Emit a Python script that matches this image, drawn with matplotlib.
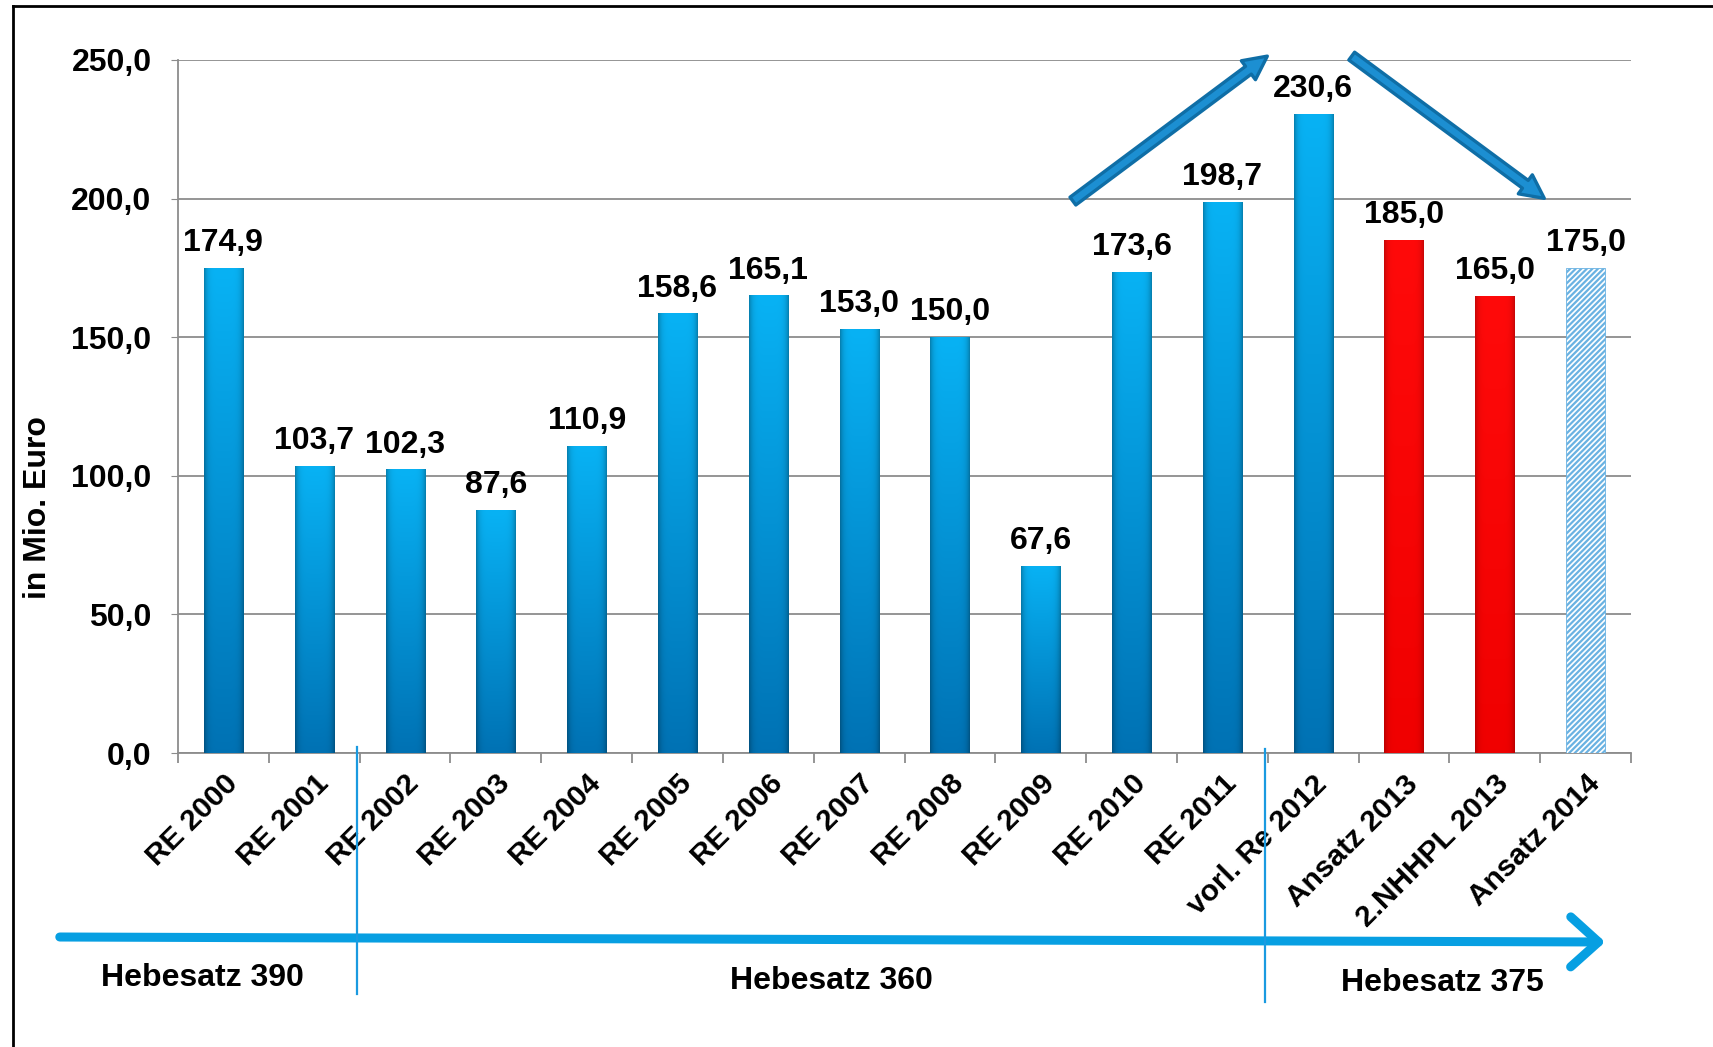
import numpy as np
import matplotlib
matplotlib.use("Agg")
import matplotlib.pyplot as plt
from matplotlib.patches import FancyArrowPatch
from matplotlib.lines import Line2D

# ---------------- data ----------------
categories = ["RE 2000", "RE 2001", "RE 2002", "RE 2003", "RE 2004", "RE 2005",
              "RE 2006", "RE 2007", "RE 2008", "RE 2009", "RE 2010", "RE 2011",
              "vorl. Re 2012", "Ansatz 2013", "2.NHHPL 2013", "Ansatz 2014"]
values = [174.9, 103.7, 102.3, 87.6, 110.9, 158.6, 165.1, 153.0, 150.0, 67.6,
          173.6, 198.7, 230.6, 185.0, 165.0, 175.0]
bar_kind = ["blue"] * 13 + ["red", "red", "hatch"]
y_ticks = [0, 50, 100, 150, 200, 250]
y_label = "in Mio. Euro"
period_labels = ["Hebesatz 390", "Hebesatz 360", "Hebesatz 375"]

plt.rcParams['font.family'] = ['Liberation Sans', 'DejaVu Sans']
plt.rcParams['hatch.linewidth'] = 1.6

W, H = 1713, 1047
fig = plt.figure(figsize=(W / 100, H / 100), dpi=100)
ax = fig.add_axes([178 / W, 1 - 753 / H, (1631 - 178) / W, (753 - 60) / H])

x = np.arange(len(categories))
colors = {"blue": "#0A9BE0", "red": "#FF0000", "hatch": "white"}
bars = ax.bar(x, values, width=0.43, zorder=3,
              color=[colors[k] for k in bar_kind], linewidth=0)


def make_grad(top, bottom, edge_dark=0.28, n=64):
    top = np.array(matplotlib.colors.to_rgb(top))
    bottom = np.array(matplotlib.colors.to_rgb(bottom))
    t = np.linspace(0, 1, n)[:, None, None]
    col = top[None, None, :] * (1 - t) + bottom[None, None, :] * t
    u = np.linspace(-1, 1, n)[None, :, None]
    shade = 1 - edge_dark * np.abs(u) ** 6
    return np.clip(col * shade, 0, 1)


grad_blue = make_grad("#08B2F4", "#0072B4")
grad_red = make_grad("#FF0A0A", "#F00000", edge_dark=0.22)

for rect, kind in zip(bars, bar_kind):
    x0, y0 = rect.get_x(), rect.get_y()
    w, h = rect.get_width(), rect.get_height()
    if kind == "hatch":
        rect.set_hatch("//////")
        rect.set_edgecolor("#6AB2E2")
        rect.set_linewidth(0.6)
        continue
    g = grad_blue if kind == "blue" else grad_red
    im = ax.imshow(g, extent=[x0, x0 + w, y0, y0 + h], aspect="auto",
                   origin="upper", zorder=3, interpolation="bilinear")
    im.set_clip_path(rect)

for xi, v in zip(x, values):
    ax.annotate(f"{v:.1f}".replace(".", ","), (xi, v), xytext=(0, 7),
                textcoords="offset points", ha="center", va="bottom",
                fontsize=23, fontweight="bold", zorder=5)

ax.set_xlim(-0.5, len(categories) - 0.5)
ax.set_ylim(0, 250)
ax.set_yticks(y_ticks)
ax.set_yticklabels([f"{t:.1f}".replace(".", ",") for t in y_ticks],
                   fontsize=23, fontweight="bold")
ax.yaxis.grid(True, color="#8C8C8C", linewidth=1.3, zorder=0)
ax.set_axisbelow(True)
ax.tick_params(axis="y", length=5, color="#8C8C8C", pad=14)

ax.set_xticks(x)
ax.set_xticklabels(categories, rotation=45, ha="right", rotation_mode="anchor",
                   fontsize=21.5, fontweight="bold")
ax.tick_params(axis="x", which="major", length=0, pad=12)
ax.set_xticks(np.arange(-0.5, len(categories)), minor=True)
ax.tick_params(axis="x", which="minor", length=7, color="#8C8C8C", width=1.3)

for s in ["top", "right"]:
    ax.spines[s].set_visible(False)
for s in ["left", "bottom"]:
    ax.spines[s].set_color("#8C8C8C")
    ax.spines[s].set_linewidth(1.3)

# trend arrows (data coordinates)
arrow_kw = dict(arrowstyle="simple,head_width=17,head_length=17,tail_width=7",
                mutation_scale=1, facecolor="#1C8FD2", edgecolor="#0F6EA6",
                linewidth=2.4, clip_on=False, zorder=6)
ax.add_patch(FancyArrowPatch((9.33, 198.5), (11.52, 252.0), **arrow_kw))
ax.add_patch(FancyArrowPatch((12.40, 252.0), (14.57, 199.5), **arrow_kw))

# y label
fig.text(38 / W, 1 - 508 / H, y_label, rotation=90, ha="center", va="center",
         fontsize=23, fontweight="bold")

# timeline arrow
fig.patches.append(FancyArrowPatch((57 / W, 1 - 937 / H), (1608 / W, 1 - 942 / H),
                                   transform=fig.transFigure,
                                   arrowstyle="->,head_length=1.0,head_width=0.9",
                                   mutation_scale=20, color="#079FE2", linewidth=6.5))

# dividers
fig.add_artist(Line2D([357 / W, 357 / W], [1 - 747 / H, 1 - 994 / H],
                      color="#1A9AE0", linewidth=1.6))
fig.add_artist(Line2D([1265 / W, 1265 / W], [1 - 749 / H, 1 - 1002 / H],
                      color="#1A9AE0", linewidth=1.6))

for (px, py), lab in zip([(202, 978), (831, 981), (1442, 983)], period_labels):
    fig.text(px / W, 1 - py / H, lab, ha="center", va="center",
             fontsize=23, fontweight="bold")

# outer frame (top and left visible)
fig.add_artist(Line2D([13 / W, 13 / W], [0, 1 - 6 / H], color="black", linewidth=2))
fig.add_artist(Line2D([13 / W, 1], [1 - 6 / H, 1 - 6 / H], color="black", linewidth=2))

fig.savefig("out.png", dpi=100)
